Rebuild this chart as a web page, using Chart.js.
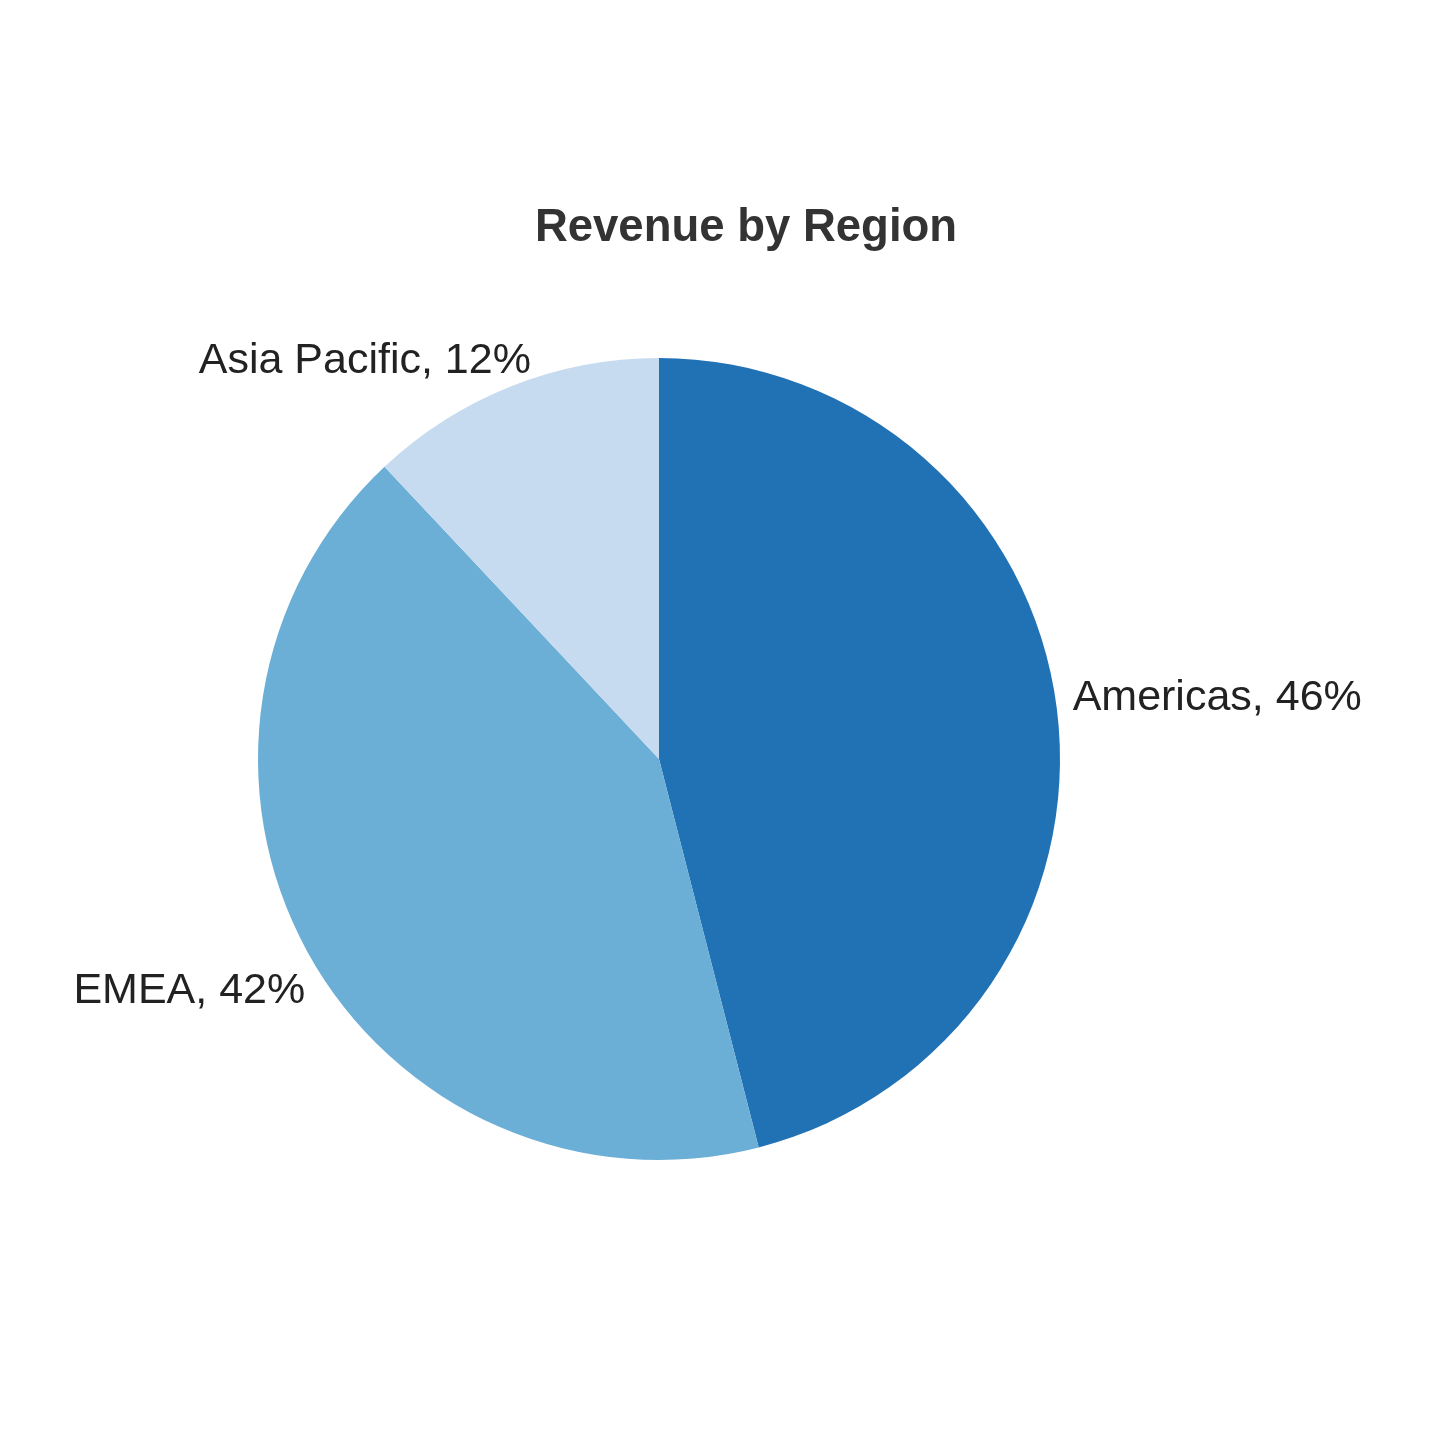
<!DOCTYPE html>
<html>
<head>
<meta charset="utf-8">
<script src="https://cdn.jsdelivr.net/npm/chart.js@4"></script>
<style>
  html, body { margin: 0; padding: 0; background: #ffffff; }
  #wrap { width: 1442px; height: 1442px; position: relative; }
</style>
</head>
<body>
<div id="wrap"><canvas id="c" width="1442" height="1442"></canvas></div>
<script>
const categories = ['Americas', 'EMEA', 'Asia Pacific'];
const shares = [46, 42, 12];
const sliceColors = ['#2171b5', '#6baed6', '#c6dbef'];
const chartTitle = 'Revenue by Region';

const FONT = '"Liberation Sans", Arial, Helvetica, sans-serif';

const titlePlugin = {
  id: 'customTitle',
  afterDraw(chart) {
    const ctx = chart.ctx;
    ctx.save();
    ctx.font = 'bold 45.5px ' + FONT;
    ctx.fillStyle = '#333333';
    ctx.textAlign = 'center';
    ctx.textBaseline = 'alphabetic';
    ctx.fillText(chartTitle, 746, 241);
    ctx.restore();
  }
};

const labelPlugin = {
  id: 'outerLabels',
  afterDatasetsDraw(chart) {
    const ctx = chart.ctx;
    const meta = chart.getDatasetMeta(0);
    const size = 43;
    const capH = 42 * 0.716;
    ctx.save();
    ctx.font = size + 'px ' + FONT;
    ctx.fillStyle = '#222222';
    ctx.textBaseline = 'alphabetic';
    meta.data.forEach((arc, i) => {
      const mid = (arc.startAngle + arc.endAngle) / 2;
      const ux = Math.cos(mid), uy = Math.sin(mid);
      const R = arc.outerRadius * 1.035;
      const side = ux >= 0 ? 1 : -1;
      const px = arc.x + ux * R - side * (33 * Math.abs(uy) - 6);
      const py = arc.y + uy * R;
      const text = categories[i] + ', ' + shares[i] + '%';
      ctx.textAlign = side > 0 ? 'left' : 'right';
      const cy = py + 106 * uy - 96 * uy * Math.abs(uy);
      ctx.fillText(text, px, cy + capH / 2);
    });
    ctx.restore();
  }
};

new Chart(document.getElementById('c'), {
  type: 'pie',
  data: {
    labels: categories,
    datasets: [{
      data: shares,
      backgroundColor: sliceColors,
      borderWidth: 0,
      hoverOffset: 0
    }]
  },
  options: {
    responsive: false,
    animation: false,
    devicePixelRatio: 1,
    layout: { padding: { left: 258, right: 382, top: 358, bottom: 282 } },
    plugins: {
      legend: { display: false },
      title: { display: false },
      tooltip: { enabled: false }
    }
  },
  plugins: [titlePlugin, labelPlugin]
});
</script>
</body>
</html>
